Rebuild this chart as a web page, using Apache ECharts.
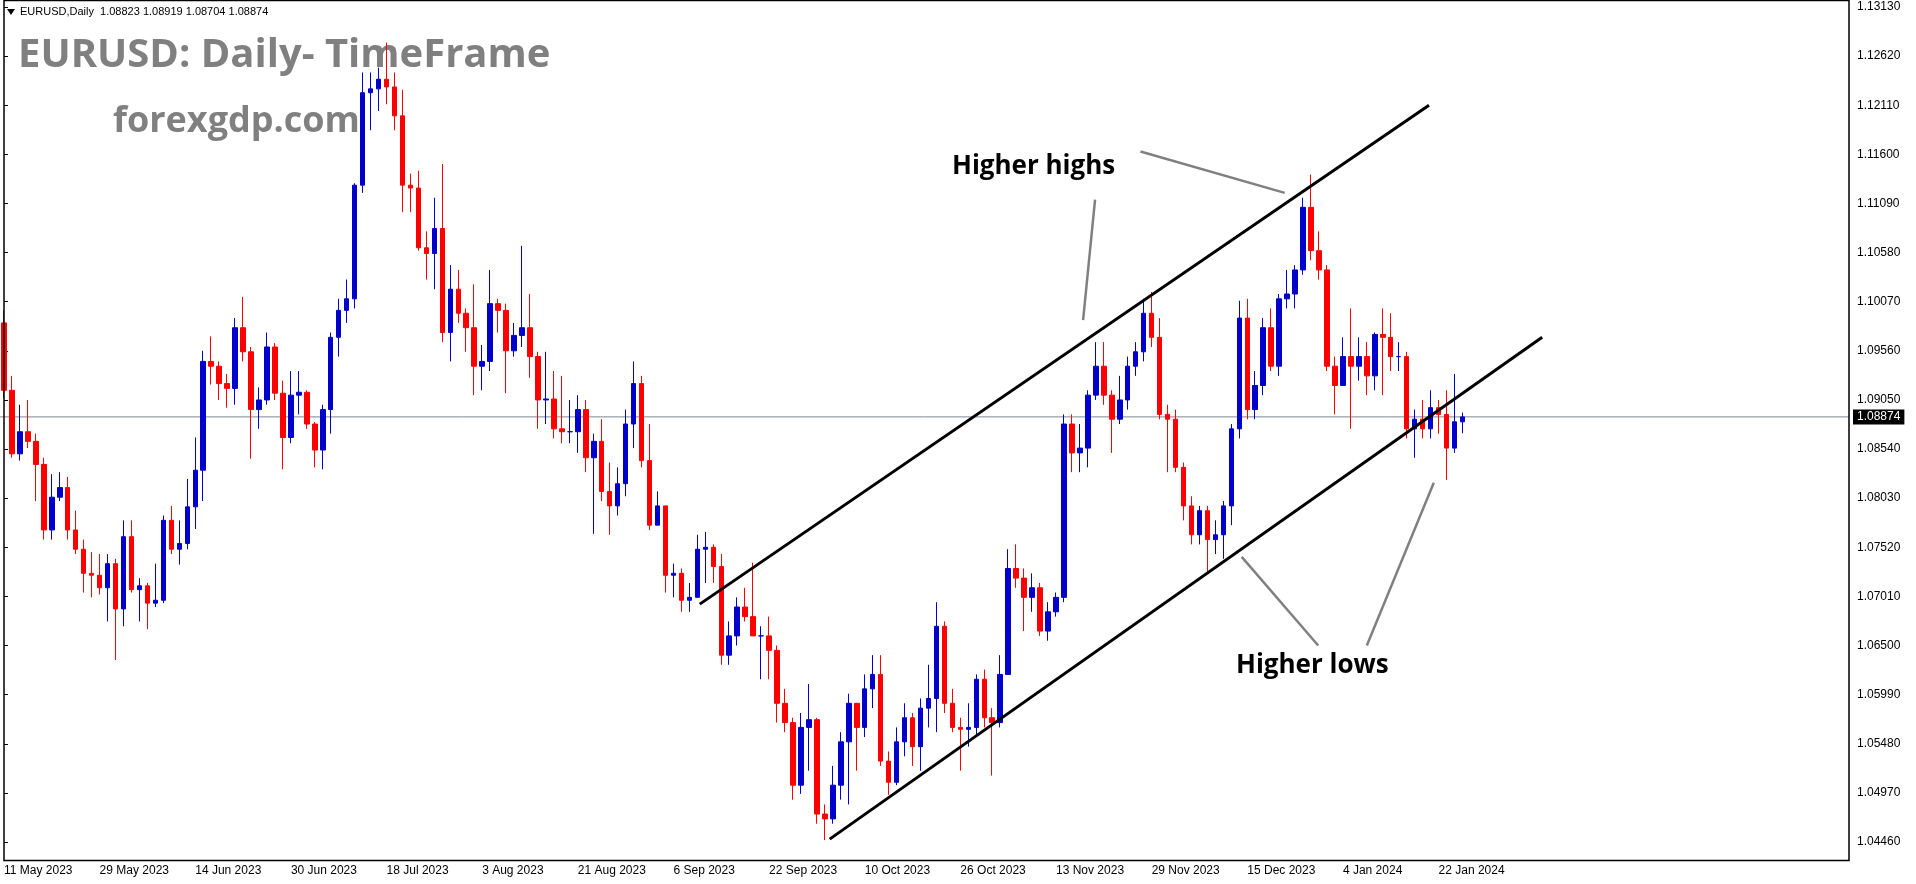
<!DOCTYPE html>
<html><head><meta charset="utf-8">
<script src="https://cdn.jsdelivr.net/npm/echarts@6/dist/echarts.min.js"></script>
<style>html,body{margin:0;padding:0;background:#fff}#c{width:1916px;height:884px}</style>
</head><body><div id="c"></div>
<script>
const dates = ["2023-05-11","2023-05-12","2023-05-15","2023-05-16","2023-05-17","2023-05-18","2023-05-19","2023-05-22","2023-05-23","2023-05-24","2023-05-25","2023-05-26","2023-05-29","2023-05-30","2023-05-31",
"2023-06-01","2023-06-02","2023-06-05","2023-06-06","2023-06-07","2023-06-08","2023-06-09","2023-06-12","2023-06-13","2023-06-14","2023-06-15","2023-06-16","2023-06-19","2023-06-20","2023-06-21","2023-06-22","2023-06-23","2023-06-26","2023-06-27","2023-06-28","2023-06-29","2023-06-30",
"2023-07-03","2023-07-04","2023-07-05","2023-07-06","2023-07-07","2023-07-10","2023-07-11","2023-07-12","2023-07-13","2023-07-14","2023-07-17","2023-07-18","2023-07-19","2023-07-20","2023-07-21","2023-07-24","2023-07-25","2023-07-26","2023-07-27","2023-07-28","2023-07-31",
"2023-08-01","2023-08-02","2023-08-03","2023-08-04","2023-08-07","2023-08-08","2023-08-09","2023-08-10","2023-08-11","2023-08-14","2023-08-15","2023-08-16","2023-08-17","2023-08-18","2023-08-21","2023-08-22","2023-08-23","2023-08-24","2023-08-25","2023-08-28","2023-08-29","2023-08-30","2023-08-31",
"2023-09-01","2023-09-04","2023-09-05","2023-09-06","2023-09-07","2023-09-08","2023-09-11","2023-09-12","2023-09-13","2023-09-14","2023-09-15","2023-09-18","2023-09-19","2023-09-20","2023-09-21","2023-09-22","2023-09-25","2023-09-26","2023-09-27","2023-09-28","2023-09-29",
"2023-10-02","2023-10-03","2023-10-04","2023-10-05","2023-10-06","2023-10-09","2023-10-10","2023-10-11","2023-10-12","2023-10-13","2023-10-16","2023-10-17","2023-10-18","2023-10-19","2023-10-20","2023-10-23","2023-10-24","2023-10-25","2023-10-26","2023-10-27","2023-10-30","2023-10-31",
"2023-11-01","2023-11-02","2023-11-03","2023-11-06","2023-11-07","2023-11-08","2023-11-09","2023-11-10","2023-11-13","2023-11-14","2023-11-15","2023-11-16","2023-11-17","2023-11-20","2023-11-21","2023-11-22","2023-11-23","2023-11-24","2023-11-27","2023-11-28","2023-11-29","2023-11-30",
"2023-12-01","2023-12-04","2023-12-05","2023-12-06","2023-12-07","2023-12-08","2023-12-11","2023-12-12","2023-12-13","2023-12-14","2023-12-15","2023-12-18","2023-12-19","2023-12-20","2023-12-21","2023-12-22","2023-12-26","2023-12-27","2023-12-28","2023-12-29",
"2024-01-02","2024-01-03","2024-01-04","2024-01-05","2024-01-08","2024-01-09","2024-01-10","2024-01-11","2024-01-12","2024-01-15","2024-01-16","2024-01-17","2024-01-18","2024-01-19","2024-01-22","2024-01-23","2024-01-24","2024-01-25"];

const closes = [1.0915,1.0849,1.0872,1.0862,1.0838,1.0770,1.0804,1.0814,1.0770,1.0750,1.0725,1.0723,1.0710,1.0735,1.0688,
1.0763,1.0708,1.0712,1.0694,1.0697,1.0780,1.0750,1.0756,1.0794,1.0832,1.0945,1.0940,1.0922,1.0917,1.0980,1.0955,1.0895,1.0905,1.0960,1.0912,1.0866,1.0910,
1.0913,1.0880,1.0853,1.0895,1.0970,1.0998,1.1010,1.1128,1.1224,1.1228,1.1238,1.1230,1.1200,1.1128,1.1125,1.1063,1.1057,1.1083,1.0975,1.1020,1.0995,
1.0980,1.0940,1.0945,1.1005,1.0998,1.0956,1.0972,1.0980,1.0950,1.0905,1.0906,1.0875,1.0872,1.0872,1.0895,1.0845,1.0862,1.0810,1.0795,1.0818,1.0880,1.0922,1.0842,
1.0775,1.0795,1.0723,1.0725,1.0697,1.0700,1.0750,1.0752,1.0732,1.0640,1.0660,1.0690,1.0680,1.0660,1.0660,1.0645,1.0590,1.0570,1.0505,1.0565,1.0573,
1.0475,1.0470,1.0505,1.0550,1.0590,1.0565,1.0605,1.0620,1.0530,1.0508,1.0550,1.0575,1.0545,1.0585,1.0595,1.0670,1.0590,1.0565,1.0563,1.0565,1.0615,1.0575,
1.0570,1.0620,1.0730,1.0720,1.0700,1.0710,1.0665,1.0685,1.0700,1.0880,1.0850,1.0855,1.0910,1.0940,1.0910,1.0885,1.0905,1.0940,1.0955,1.0995,1.0970,1.0890,
1.0885,1.0835,1.0795,1.0765,1.0790,1.0760,1.0765,1.0795,1.0875,1.0990,1.0895,1.0920,1.0980,1.0940,1.1010,1.1015,1.1040,1.1105,1.1060,1.1040,
1.0940,1.0920,1.0950,1.0940,1.0950,1.0930,1.0973,1.0970,1.0950,1.0950,1.0875,1.0885,1.0875,1.0897,1.0890,1.0855,1.08823,1.08874];

const opens = [1.0985,1.0915,1.0849,1.0872,1.0862,1.0838,1.0770,1.0804,1.0814,1.0770,1.0750,1.0725,1.0723,1.0710,1.0735,
1.0688,1.0763,1.0708,1.0712,1.0694,1.0697,1.0780,1.0750,1.0756,1.0794,1.0832,1.0945,1.0940,1.0922,1.0917,1.0980,1.0955,1.0895,1.0905,1.0960,1.0912,1.0866,
1.0910,1.0913,1.0880,1.0853,1.0895,1.0970,1.0998,1.1010,1.1128,1.1224,1.1228,1.1238,1.1230,1.1200,1.1128,1.1125,1.1063,1.1057,1.1083,1.0975,1.1020,
1.0995,1.0980,1.0940,1.0945,1.1005,1.0998,1.0956,1.0972,1.0980,1.0950,1.0905,1.0906,1.0875,1.0872,1.0872,1.0895,1.0845,1.0862,1.0810,1.0795,1.0818,1.0880,1.0922,
1.0842,1.0775,1.0795,1.0723,1.0725,1.0697,1.0700,1.0750,1.0752,1.0732,1.0640,1.0660,1.0690,1.0680,1.0660,1.0660,1.0645,1.0590,1.0570,1.0505,1.0565,
1.0573,1.0475,1.0470,1.0505,1.0550,1.0590,1.0565,1.0605,1.0620,1.0530,1.0508,1.0550,1.0575,1.0545,1.0585,1.0595,1.0670,1.0590,1.0565,1.0563,1.0565,1.0615,
1.0575,1.0570,1.0620,1.0730,1.0720,1.0700,1.0710,1.0665,1.0685,1.0700,1.0880,1.0850,1.0855,1.0910,1.0940,1.0910,1.0885,1.0905,1.0940,1.0955,1.0995,1.0970,
1.0890,1.0885,1.0835,1.0795,1.0765,1.0790,1.0760,1.0765,1.0795,1.0875,1.0990,1.0895,1.0920,1.0980,1.0940,1.1010,1.1015,1.1040,1.1105,1.1060,
1.1040,1.0940,1.0920,1.0950,1.0940,1.0950,1.0930,1.0973,1.0970,1.0950,1.0950,1.0875,1.0885,1.0875,1.0897,1.0890,1.0855,1.08823];

const highs = [1.0998,1.0930,1.0900,1.0905,1.0870,1.0845,1.0828,1.0830,1.0825,1.0790,1.0760,1.0747,1.0745,1.0745,1.0740,
1.0780,1.0780,1.0720,1.0715,1.0735,1.0785,1.0795,1.0780,1.0823,1.0866,1.0956,1.0971,1.0945,1.0932,1.0990,1.1012,1.0960,1.0918,1.0975,1.0964,1.0925,1.0935,
1.0935,1.0915,1.0882,1.0900,1.0975,1.1010,1.1030,1.1130,1.1245,1.1245,1.1250,1.1276,1.1245,1.1227,1.1140,1.1143,1.1080,1.1115,1.1150,1.1045,1.1040,
1.1000,1.1025,1.0962,1.1040,1.1010,1.1005,1.0985,1.1065,1.1015,1.0955,1.0955,1.0935,1.0930,1.0905,1.0910,1.0905,1.0870,1.0885,1.0840,1.0835,1.0895,1.0945,1.0930,
1.0880,1.0810,1.0795,1.0735,1.0730,1.0715,1.0765,1.0768,1.0755,1.0745,1.0675,1.0700,1.0710,1.0736,1.0670,1.0680,1.0650,1.0605,1.0575,1.0580,1.0610,
1.0575,1.0485,1.0525,1.0560,1.0600,1.0580,1.0620,1.0640,1.0640,1.0540,1.0565,1.0590,1.0580,1.0595,1.0630,1.0695,1.0675,1.0605,1.0575,1.0590,1.0620,1.0625,
1.0585,1.0640,1.0750,1.0755,1.0730,1.0725,1.0715,1.0695,1.0705,1.0890,1.0890,1.0880,1.0915,1.0965,1.0965,1.0915,1.0930,1.0950,1.0965,1.1010,1.1017,1.0990,
1.0900,1.0895,1.0840,1.0805,1.0795,1.0795,1.0780,1.0800,1.0880,1.1008,1.1010,1.0935,1.0990,1.1000,1.1015,1.1040,1.1045,1.1115,1.1139,1.1080,
1.1045,1.0950,1.0970,1.1000,1.0970,1.0965,1.0975,1.1000,1.0995,1.0965,1.0955,1.0895,1.0905,1.0915,1.0905,1.0915,1.0932,1.08919];

const lows = [1.0907,1.0845,1.0842,1.0855,1.0800,1.0760,1.0760,1.0800,1.0760,1.0745,1.0705,1.0700,1.0703,1.0675,1.0635,
1.0670,1.0705,1.0675,1.0667,1.0690,1.0694,1.0745,1.0734,1.0750,1.0771,1.0800,1.0921,1.0905,1.0897,1.0900,1.0945,1.0844,1.0875,1.0900,1.0905,1.0833,1.0860,
1.0890,1.0875,1.0835,1.0833,1.0870,1.0950,1.0985,1.1000,1.1120,1.1185,1.1205,1.1212,1.1185,1.1100,1.1100,1.1060,1.1030,1.1020,1.0965,1.0945,1.0985,
1.0955,1.0910,1.0915,1.0935,1.0975,1.0912,1.0950,1.0960,1.0928,1.0875,1.0880,1.0865,1.0860,1.0860,1.0850,1.0830,1.0766,1.0800,1.0765,1.0785,1.0805,1.0855,1.0835,
1.0770,1.0775,1.0705,1.0700,1.0685,1.0685,1.0700,1.0715,1.0715,1.0630,1.0630,1.0650,1.0675,1.0660,1.0615,1.0615,1.0570,1.0560,1.0490,1.0496,1.0520,
1.0465,1.0448,1.0465,1.0490,1.0485,1.0520,1.0555,1.0585,1.0525,1.0495,1.0505,1.0535,1.0525,1.0520,1.0565,1.0560,1.0580,1.0560,1.0520,1.0545,1.0555,1.0565,
1.0515,1.0565,1.0620,1.0710,1.0665,1.0685,1.0660,1.0655,1.0680,1.0695,1.0830,1.0830,1.0835,1.0905,1.0900,1.0850,1.0880,1.0895,1.0930,1.0945,1.0960,1.0885,
1.0830,1.0830,1.0780,1.0755,1.0755,1.0725,1.0745,1.0740,1.0775,1.0865,1.0885,1.0885,1.0910,1.0935,1.0930,1.1000,1.1000,1.1035,1.1050,1.1030,
1.0935,1.0890,1.0920,1.0875,1.0925,1.0910,1.0915,1.0910,1.0935,1.0935,1.0865,1.0845,1.0865,1.0865,1.0870,1.0822,1.0850,1.08704];

const tickLabels = {"2023-05-11":"11 May 2023","2023-05-29":"29 May 2023","2023-06-14":"14 Jun 2023","2023-06-30":"30 Jun 2023","2023-07-18":"18 Jul 2023","2023-08-03":"3 Aug 2023","2023-08-21":"21 Aug 2023","2023-09-06":"6 Sep 2023","2023-09-22":"22 Sep 2023","2023-10-10":"10 Oct 2023","2023-10-26":"26 Oct 2023","2023-11-13":"13 Nov 2023","2023-11-29":"29 Nov 2023","2023-12-15":"15 Dec 2023","2024-01-04":"4 Jan 2024","2024-01-22":"22 Jan 2024"};
const yTicks = ["1.04460","1.04970","1.05480","1.05990","1.06500","1.07010","1.07520","1.08030","1.08540","1.09050","1.09560","1.10070","1.10580","1.11090","1.11600","1.12110","1.12620","1.13130"];
const lastPrice = 1.08874;
const upperChannel = [[87.3,1.0693],[178.8,1.1211]];
const lowerChannel = [[103.6,1.0449],[193.0,1.0970]];
const pointer1 = [[142.6,1.1163],[160.7,1.1120]];
const pointer2 = [[136.9,1.1113],[135.4,1.0988]];
const pointer3 = [[155.3,1.0742],[164.9,1.0650]];
const pointer4 = [[179.4,1.0819],[171.0,1.0650]];
const TOTAL = 232;

const cats = dates.slice();
while (cats.length < TOTAL) cats.push("f" + cats.length);
const ohlc = dates.map((d, i) => [opens[i], closes[i], lows[i], highs[i]]);

const chart = echarts.init(document.getElementById('c'));
const W = 1849;
const lineS = (d, color, w, z) => ({type:'line', xAxisIndex:1, data:d, symbol:'none', silent:true,
  lineStyle:{color:color, width:w}, z:z||5, animation:false});
const priceLine = lineS([[-0.5,lastPrice],[TOTAL-0.5,lastPrice]], '#7f8790', 1, 1);
priceLine.endLabel = {show:true, formatter:'1.08874', color:'#fff', backgroundColor:'#000',
  padding:[2,4,1,4], fontSize:12, fontFamily:'Liberation Sans', distance:4};
chart.setOption({
  animation:false,
  grid:{left:0, top:7, width:W, bottom:42, containLabel:false},
  xAxis:[{type:'category', data:cats, boundaryGap:true,
    axisLine:{show:false}, axisTick:{show:false}, splitLine:{show:false},
    axisLabel:{interval:0, margin:23, align:'left', fontSize:12, color:'#000', fontFamily:'Liberation Sans',
      formatter:v => tickLabels[v] || ''}},
    {type:'value', min:-0.5, max:TOTAL-0.5, show:false}],
  yAxis:{type:'value', position:'right', min:1.0446, max:1.1313, interval:0.0051, scale:true,
    axisLine:{show:false}, axisTick:{show:true, length:4, lineStyle:{color:'#000'}}, splitLine:{show:false},
    axisLabel:{fontSize:12, color:'#000', fontFamily:'Liberation Sans', margin:8,
      formatter:(v)=>{ const s=v.toFixed(5); return yTicks.includes(s)?s:''; }}},
  series:[
    priceLine,
    {type:'candlestick', data:ohlc, barMaxWidth:5, barWidth:5, z:3,
      itemStyle:{color:'#0000cc', color0:'#ff0000', borderColor:'#0000cc', borderColor0:'#ff0000', borderWidth:1}},
    lineS(upperChannel,'#000',3), lineS(lowerChannel,'#000',3),
    lineS(pointer1,'#808080',2.5), lineS(pointer2,'#808080',2.5),
    lineS(pointer3,'#808080',2.5), lineS(pointer4,'#808080',2.5)
  ],
  graphic:[
    {type:'rect', shape:{x:4, y:0.5, width:W-4, height:860}, style:{fill:'none', stroke:'#000', lineWidth:1.5}, z:100, silent:true},
    {type:'polygon', shape:{points:[[7,9],[15,9],[11,15]]}, style:{fill:'#000'}},
    {type:'text', left:20, top:6, style:{text:'EURUSD,Daily  1.08823 1.08919 1.08704 1.08874', font:'11px "Liberation Sans"', fill:'#000'}},
    {type:'text', left:18, top:36, style:{text:'EURUSD: Daily- TimeFrame', font:'bold 40px "Open Sans"', fill:'#808080'}},
    {type:'text', left:113, top:104, style:{text:'forexgdp.com', font:'bold 36px "Open Sans"', fill:'#808080'}},
    {type:'text', left:952, top:154, style:{text:'Higher highs', font:'bold 26px "Open Sans"', fill:'#000'}},
    {type:'text', left:1236, top:653, style:{text:'Higher lows', font:'bold 26px "Open Sans"', fill:'#000'}}
  ]
});
</script></body></html>
